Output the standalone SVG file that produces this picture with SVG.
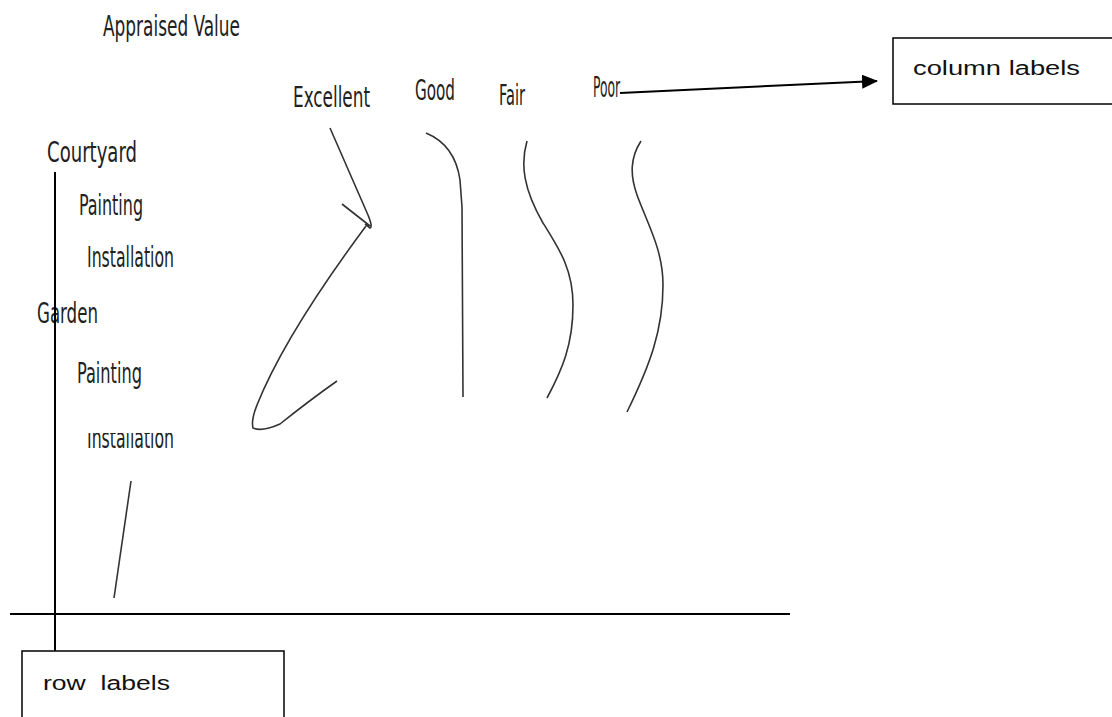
<svg xmlns="http://www.w3.org/2000/svg" width="1112" height="717" viewBox="0 0 1112 717">
<style>
.hw{font-family:"DejaVu Sans",sans-serif;font-stretch:condensed;font-size:28px;fill:#222}
.cal{font-family:"Liberation Sans","Open Sans",sans-serif;font-size:20px;fill:#111}
.curve{fill:none;stroke:#333;stroke-width:1.6}
.ln{fill:none;stroke:#000;stroke-width:2}
.box{fill:#fff;stroke:#000;stroke-width:1.5}
</style>
<defs>
<marker id="ah" markerWidth="16" markerHeight="14" refX="15" refY="7" orient="auto" markerUnits="userSpaceOnUse" viewBox="0 0 16 14">
<path d="M0,0 L16,7 L0,14 z" fill="#000"/>
</marker>
<clipPath id="cut"><rect x="80" y="433" width="110" height="30"/></clipPath>
</defs>
<rect width="1112" height="717" fill="#fff"/>
<g id="title"><text class="hw" x="103" y="36" textLength="137" lengthAdjust="spacingAndGlyphs">Appraised Value</text></g>
<g id="columns">
<text class="hw" x="293" y="107" textLength="77" lengthAdjust="spacingAndGlyphs">Excellent</text>
<text class="hw" x="415" y="100" textLength="40" lengthAdjust="spacingAndGlyphs">Good</text>
<text class="hw" x="499" y="105" textLength="26" lengthAdjust="spacingAndGlyphs">Fair</text>
<text class="hw" x="593" y="97" textLength="27" lengthAdjust="spacingAndGlyphs">Poor</text>
</g>
<g id="rows">
<text class="hw" x="47" y="162" textLength="90" lengthAdjust="spacingAndGlyphs">Courtyard</text>
<text class="hw" x="79" y="215" textLength="64" lengthAdjust="spacingAndGlyphs">Painting</text>
<text class="hw" x="87" y="267" textLength="87" lengthAdjust="spacingAndGlyphs">Installation</text>
<text class="hw" x="37" y="323" textLength="61" lengthAdjust="spacingAndGlyphs">Garden</text>
<text class="hw" x="77" y="383" textLength="65" lengthAdjust="spacingAndGlyphs">Painting</text>
<text class="hw" x="87" y="448" textLength="87" lengthAdjust="spacingAndGlyphs" clip-path="url(#cut)">Installation</text>
</g>
<g id="curves">
<path class="curve" d="M330,128 L368,215 Q373,227 370,228 L365,224 M342,204 L370,226 M366,226 Q285,335 257,405 Q251,420 253,428 Q262,432 280,424 Q310,400 337,381"/>
<path class="curve" d="M426,133 Q455,145 460,180 L462,207 L463,397"/>
<path class="curve" d="M527,141 C520,165 524,190 543,223 C560,250 573,270 573,305 C573,345 562,370 547,398"/>
<path class="curve" d="M641,141 C630,158 630,175 637,195 C648,225 663,250 663,285 C663,330 650,365 627,412"/>
<path class="curve" d="M131,481 L114,598"/>
</g>
<g id="connectors">
<line class="ln" x1="10" y1="614" x2="790" y2="614"/>
<line class="ln" x1="55" y1="172" x2="55" y2="651"/>
<line class="ln" x1="620" y1="93" x2="877" y2="81" marker-end="url(#ah)"/>
</g>
<g id="row-labels">
<rect class="box" x="22" y="651" width="262" height="80"/>
<text class="cal" x="43" y="690" textLength="127" lengthAdjust="spacingAndGlyphs" xml:space="preserve">row  labels</text>
</g>
<g id="column-labels">
<rect class="box" x="893" y="38" width="230" height="66"/>
<text class="cal" x="913" y="75" textLength="167" lengthAdjust="spacingAndGlyphs">column labels</text>
</g>
</svg>
